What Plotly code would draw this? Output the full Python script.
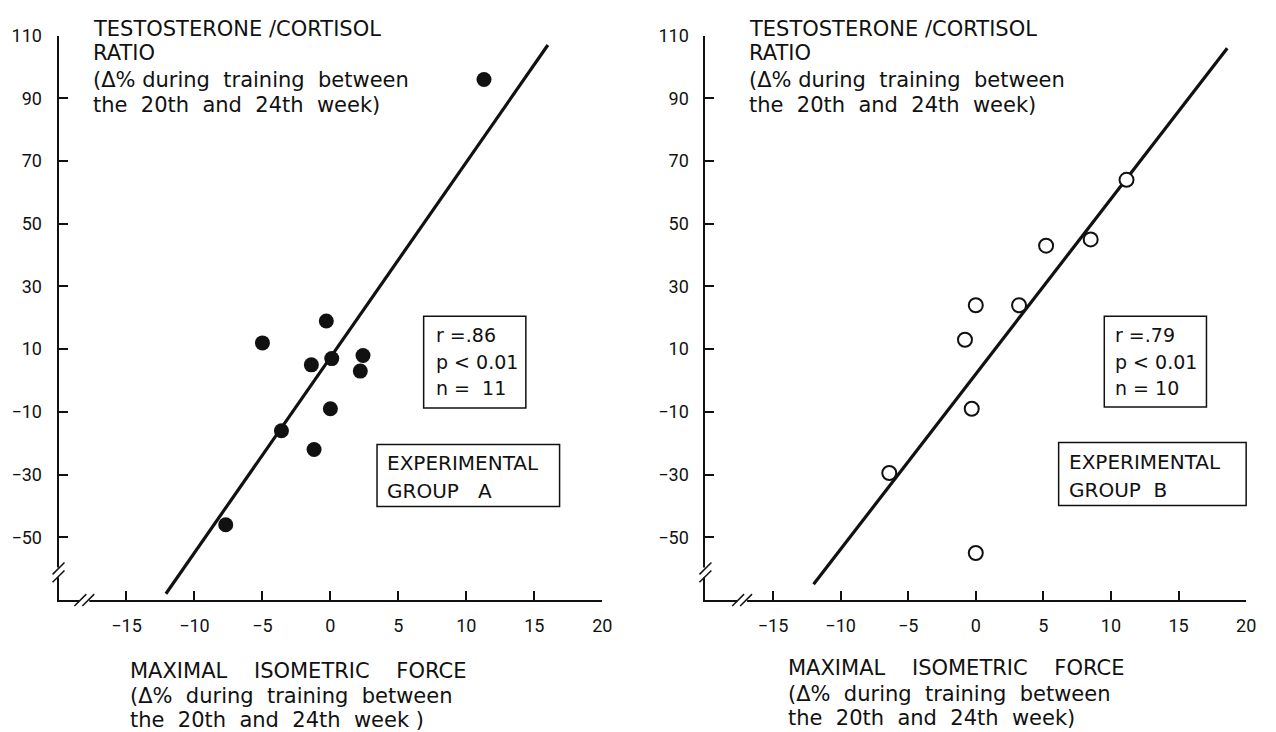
import plotly.graph_objects as go

# ---------------- data ----------------
a_x = [11.3, -0.3, -5.0, -1.4, 0.1, 2.4, 2.2, 0.0, -3.6, -1.2, -7.7]
a_y = [96, 19, 12, 5, 7, 8, 3, -9, -16, -22, -46]
a_line_x = [-12.1, 16.0]
a_line_y = [-68, 107]

b_x = [11.15, 8.5, 5.2, 3.2, 0.0, -0.8, -0.3, -6.4, 0.0]
b_y = [64, 45, 43, 24, 24, 13, -9, -29.5, -55]
b_line_x = [-12.0, 18.6]
b_line_y = [-65, 106]

y_ticks = [110, 90, 70, 50, 30, 10, -10, -30, -50]
x_ticks = [-15, -10, -5, 0, 5, 10, 15, 20]
x_range = [-20, 20]
y_range = [-70, 110]

y_title = ["TESTOSTERONE /CORTISOL", "RATIO",
           "(\u0394% during  training  between", "the  20th  and  24th  week)"]
x_title_a = ["MAXIMAL    ISOMETRIC    FORCE", "(\u0394%  during  training  between",
             "the  20th  and  24th  week )"]
x_title_b = ["MAXIMAL    ISOMETRIC    FORCE", "(\u0394%  during  training  between",
             "the  20th  and  24th  week)"]
stats_a = ["r =.86", "p < 0.01", "n =  11"]
stats_b = ["r =.79", "p < 0.01", "n = 10"]
group_a = ["EXPERIMENTAL", "GROUP   A"]
group_b = ["EXPERIMENTAL", "GROUP  B"]

# ---------------- layout helpers ----------------
W, H = 1276, 732
TEXT_FONT = "DejaVu Sans"
TICK_FONT = "Roboto"
INK = "#111111"


def px(p):
    return p / W


def py(p):
    return 1 - p / H


dom_a = [px(59), px(607)]
dom_b = [px(711), px(1256)]
dom_y = [py(598), py(25)]


def sp(s):
    return s.replace(" ", "\u00a0")


fig = go.Figure()

fig.add_trace(go.Scatter(x=a_x, y=a_y, mode="markers", xaxis="x", yaxis="y",
                         marker=dict(size=15, color=INK), showlegend=False))
fig.add_trace(go.Scatter(x=a_line_x, y=a_line_y, mode="lines", xaxis="x", yaxis="y",
                         line=dict(color=INK, width=3.2), showlegend=False))
fig.add_trace(go.Scatter(x=b_line_x, y=b_line_y, mode="lines", xaxis="x2", yaxis="y2",
                         line=dict(color=INK, width=3.2), showlegend=False))
fig.add_trace(go.Scatter(x=b_x, y=b_y, mode="markers", xaxis="x2", yaxis="y2",
                         marker=dict(size=14, color="white",
                                     line=dict(color=INK, width=2)),
                         showlegend=False))

axis_common = dict(showline=True, linecolor=INK, linewidth=2, ticks="inside",
                   ticklen=9, tickwidth=2, tickcolor=INK, showgrid=False,
                   zeroline=False, mirror=False,
                   tickfont=dict(family=TICK_FONT, size=18, color=INK))

fig.update_layout(
    width=W, height=H, margin=dict(l=0, r=0, t=0, b=0),
    paper_bgcolor="white", plot_bgcolor="white",
    xaxis=dict(domain=dom_a, range=x_range, tickvals=x_ticks, anchor="y",
               ticklabelstandoff=8, **axis_common),
    yaxis=dict(domain=dom_y, range=y_range, tickvals=y_ticks, anchor="x",
               ticklabelstandoff=11, **axis_common),
    xaxis2=dict(domain=dom_b, range=x_range, tickvals=x_ticks, anchor="y2",
                ticklabelstandoff=8, **axis_common),
    yaxis2=dict(domain=dom_y, range=y_range, tickvals=y_ticks, anchor="x2",
                ticklabelstandoff=11, **axis_common),
)

annotations = []
shapes = []


def text(xp, yp, s, size=20, anchor="left"):
    annotations.append(dict(x=px(xp), y=py(yp), xref="paper", yref="paper",
                            text=sp(s), showarrow=False, xanchor=anchor,
                            yanchor="middle",
                            font=dict(family=TEXT_FONT, size=size, color=INK)))


# axis titles
for i, s in enumerate(y_title):
    text(92, [18, 43, 70, 95][i], s, size=21)
    text(753, [18, 43, 70, 95][i], s, size=21)
for i, s in enumerate(x_title_a):
    text(129, [670, 695, 720][i], s, size=21)
for i, s in enumerate(x_title_b):
    text(792, [667, 693, 718][i], s, size=21)

# stats boxes
shapes.append(dict(type="rect", xref="paper", yref="paper", x0=px(427), x1=px(530),
                   y0=py(310), y1=py(403), line=dict(color=INK, width=1.5)))
for i, s in enumerate(stats_a):
    text(437, [329, 356, 383][i], s, size=19)
shapes.append(dict(type="rect", xref="paper", yref="paper", x0=px(1113), x1=px(1216),
                   y0=py(310), y1=py(402), line=dict(color=INK, width=1.5)))
for i, s in enumerate(stats_b):
    text(1122, [329, 356, 383][i], s, size=19)

# group boxes
shapes.append(dict(type="rect", xref="paper", yref="paper", x0=px(380), x1=px(564),
                   y0=py(440), y1=py(503), line=dict(color=INK, width=1.5)))
for i, s in enumerate(group_a):
    text(388, [459, 487][i], s, size=20)
shapes.append(dict(type="rect", xref="paper", yref="paper", x0=px(1067), x1=px(1256),
                   y0=py(438), y1=py(502), line=dict(color=INK, width=1.5)))
for i, s in enumerate(group_b):
    text(1075, [458, 486][i], s, size=20)


# axis breaks
def breaks(ax_x, x_break_px, y_break_px, bottom=598):
    shapes.append(dict(type="line", xref="paper", yref="paper",
                       x0=px(ax_x), x1=px(ax_x), y0=py(y_break_px - 5), y1=py(y_break_px + 5),
                       line=dict(color="white", width=5)))
    shapes.append(dict(type="line", xref="paper", yref="paper",
                       x0=px(x_break_px - 5), x1=px(x_break_px + 5), y0=py(bottom), y1=py(bottom),
                       line=dict(color="white", width=5)))
    for d in (-4, 4):
        shapes.append(dict(type="line", xref="paper", yref="paper",
                           x0=px(ax_x - 6), x1=px(ax_x + 6),
                           y0=py(y_break_px + d + 6), y1=py(y_break_px + d - 6),
                           line=dict(color=INK, width=1.5)))
        shapes.append(dict(type="line", xref="paper", yref="paper",
                           x0=px(x_break_px + d - 6), x1=px(x_break_px + d + 6),
                           y0=py(bottom + 6), y1=py(bottom - 6),
                           line=dict(color=INK, width=1.5)))


breaks(59, 85, 570)
breaks(711, 748, 570)

fig.update_layout(annotations=annotations, shapes=shapes)
fig.write_html("out.html")
